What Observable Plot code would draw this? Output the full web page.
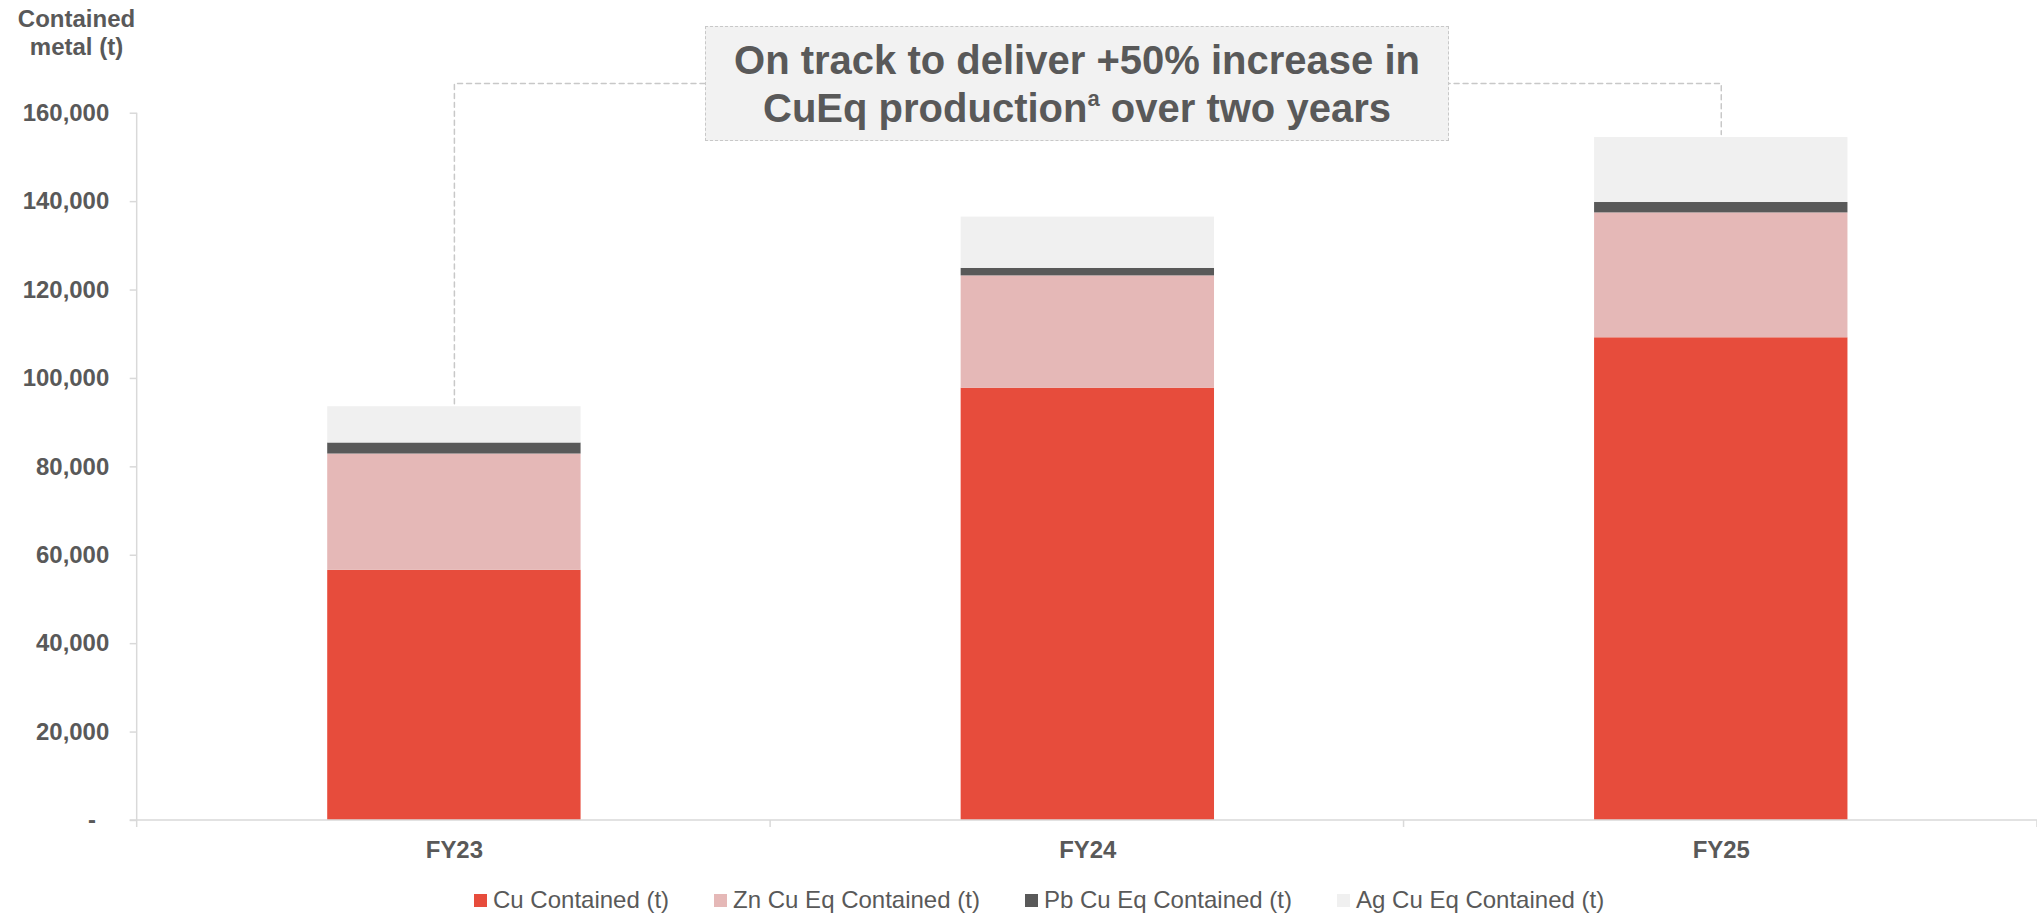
<!DOCTYPE html>
<html>
<head>
<meta charset="utf-8">
<script src="https://cdn.jsdelivr.net/npm/d3@7"></script>
<script src="https://cdn.jsdelivr.net/npm/@observablehq/plot@0.6"></script>
<style>
  html, body { margin: 0; padding: 0; background: #fff; overflow: hidden; }
  body { font-family: "Liberation Sans", Arial, sans-serif; color: #595959; }
  #wrap { position: relative; width: 2037px; height: 916px; overflow: hidden; }
  #ytitle { position: absolute; left: 0; top: 5px; width: 153px; text-align: center; font-weight: bold; font-size: 24px; line-height: 28px; color: #595959; z-index: 2; }
  #chart { position: absolute; left: 0; top: 0; }
  #box { position: absolute; left: 705px; top: 26px; width: 742px; height: 113px; background: #F2F2F2; border: 1.5px dashed #C8C8C8;
         display: flex; flex-direction: column; justify-content: center; align-items: center; text-align: center;
         font-weight: bold; font-size: 40px; line-height: 48px; color: #595959; z-index: 2; }
  #box sup { font-size: 0.55em; line-height: 0; vertical-align: 0.75em; }
  #legend { position: absolute; left: 474px; top: 888px; display: flex; align-items: center; font-size: 24px; line-height: 24px; color: #595959; z-index: 2; }
  .item { display: flex; align-items: center; margin-right: 45px; }
  .sw { width: 13px; height: 13px; margin-right: 6px; }
</style>
</head>
<body>
<div id="wrap">
  <div id="ytitle">Contained<br>metal (t)</div>
  <div id="chart"></div>
  <div id="box"><div>On track to deliver +50% increase in</div><div>CuEq production<sup>a</sup> over two years</div></div>
  <div id="legend"></div>
</div>
<script>
// ---- data ----
const categories = ["FY23", "FY24", "FY25"];
const seriesNames = ["Cu Contained (t)", "Zn Cu Eq Contained (t)", "Pb Cu Eq Contained (t)", "Ag Cu Eq Contained (t)"];
const cuValues = [56600, 97800, 109200];
const znValues = [26300, 25400, 28250];
const pbValues = [2500, 1700, 2350];
const agValues = [8200, 11600, 14700];
const seriesColors = ["#E74C3C", "#E5B8B7", "#595959", "#F0F0F0"];
const yTicks = [0, 20000, 40000, 60000, 80000, 100000, 120000, 140000, 160000];

// ---- build table ----
const seriesValues = [cuValues, znValues, pbValues, agValues];
const rows = categories.flatMap((c, i) => seriesNames.map((s, j) => ({cat: c, series: s, value: seriesValues[j][i]})));
const totals = categories.map((c, i) => seriesValues.reduce((a, arr) => a + arr[i], 0));

const bracketTop = 166700, bracketGap = 700;
const bracket = [
  {cat: categories[0], v: totals[0] + bracketGap},
  {cat: categories[0], v: bracketTop},
  {cat: categories[2], v: bracketTop},
  {cat: categories[2], v: totals[2] + bracketGap}
];

const fmt = d => d === 0 ? "-\u00a0\u00a0" : d3.format(",")(d);

const W = 2042, H = 875;

function axisLines(index, scales, values, dims) {
  const g = d3.create("svg:g").attr("stroke", "#D9D9D9").attr("stroke-width", 1.5).attr("fill", "none");
  const L = dims.marginLeft, R = dims.width - dims.marginRight;
  const y0 = scales.y(0), yTop = scales.y(yTicks[yTicks.length - 1]);
  g.append("line").attr("x1", L).attr("x2", L).attr("y1", yTop).attr("y2", y0 + 7);
  g.append("line").attr("x1", L - 7).attr("x2", R).attr("y1", y0).attr("y2", y0);
  const step = (R - L) / categories.length;
  for (let k = 1; k <= categories.length; k++) {
    g.append("line").attr("x1", L + k * step).attr("x2", L + k * step).attr("y1", y0).attr("y2", y0 + 7);
  }
  return g.node();
}

const plot = Plot.plot({
  width: W,
  height: H,
  marginTop: 113,
  marginBottom: H - 822,
  marginLeft: 137,
  marginRight: 0,
  style: {fontFamily: "'Liberation Sans', Arial, sans-serif", fontSize: "24px", color: "#595959", background: "transparent", overflow: "visible"},
  x: {domain: categories, paddingInner: 0.6, paddingOuter: 0.3, label: null},
  y: {domain: [0, 160000], label: null},
  color: {domain: seriesNames, range: seriesColors},
  marks: [
    Plot.barY(rows, {x: "cat", y: "value", fill: "series"}),
    axisLines,
    Plot.axisY({ticks: yTicks, tickFormat: fmt, tickSize: 7, tickPadding: 21, stroke: "#D9D9D9", strokeWidth: 1.5, fill: "#595959", fontWeight: "bold", fontSize: 24, label: null}),
    Plot.axisX({tickSize: 0, tickPadding: 21, fill: "#595959", fontWeight: "bold", fontSize: 24, label: null}),
    Plot.line(bracket, {x: "cat", y: "v", stroke: "#C8C8C8", strokeWidth: 1.5, strokeDasharray: "5,4"})
  ]
});
document.getElementById("chart").appendChild(plot);

// legend
const legend = d3.select("#legend");
seriesNames.forEach((s, i) => {
  const it = legend.append("div").attr("class", "item");
  it.append("div").attr("class", "sw").style("background", seriesColors[i]);
  it.append("span").text(s);
});
</script>
</body>
</html>
